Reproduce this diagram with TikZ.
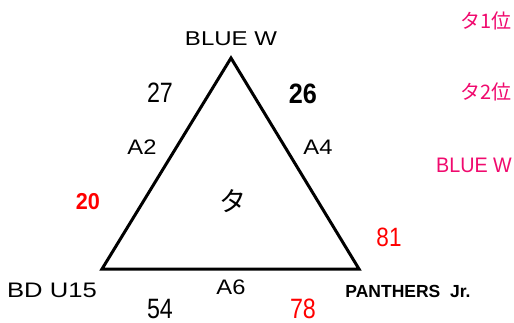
\documentclass[tikz,border=0pt]{standalone}
\usepackage{fontspec}
\setmainfont{Liberation Sans}
\newfontfamily\cjk{Noto Sans CJK JP}
\definecolor{pinkc}{RGB}{240,10,110}
\definecolor{redc}{RGB}{255,0,0}
\newcommand\hs[2]{\scalebox{#1}[1]{#2}}
\newcommand\fs[1]{\fontsize{#1}{#1}\selectfont}
\begin{document}
\begin{tikzpicture}[x=1pt,y=-1pt,
  every node/.style={inner sep=0pt},
  edge/.style={line width=3pt, line join=miter},
  team/.style={font=\fs{20}},
  score/.style={font=\fs{28}},
  bscore/.style={font=\fs{28}\bfseries},
  lab/.style={font=\fs{21}},
  rscore/.style={text=redc},
  legend/.style={anchor=east, text=pinkc}]
\useasboundingbox (0,0) rectangle (514,322);
\coordinate (top) at (231,58);
\coordinate (bl) at (102,269);
\coordinate (br) at (359,269);
\draw[edge] (top) -- (bl) -- (br) -- cycle;

\node[team] (tname) at (231,39) {\hs{1.2}{BLUE W}};
\node[score] (n27) at (160,93) {\hs{0.83}{27}};
\node[bscore] (n26) at (303,93.5) {\hs{0.9}{26}};
\node[lab] (a2) at (142,147.5) {\hs{1.13}{A2}};
\node[lab] (a4) at (318,147.5) {\hs{1.13}{A4}};
\node[rscore, font=\fs{23}\bfseries] (n20) at (88,202) {\hs{0.94}{20}};
\node[font=\fs{27}\cjk] (ta) at (233,201) {タ};
\node[rscore, font=\fs{26.5}] (n81) at (389,237.5) {\hs{0.85}{81}};
\node[lab] (bd) at (52,290.5) {\hs{1.22}{BD U15}};
\node[lab] (a6) at (231,287) {\hs{1.13}{A6}};
\node[font=\fs{17.5}\bfseries] (pan) at (408,291.5) {PANTHERS\ \ Jr.};
\node[score] (n54) at (160,308.5) {\hs{0.83}{54}};
\node[score, rscore] (n78) at (303,308.5) {\hs{0.83}{78}};

\node[legend, font=\fs{20}\cjk] (l1) at (512,21) {タ1位};
\node[legend, font=\fs{20}\cjk] (l2) at (512,92) {タ2位};
\node[legend, font=\fs{21}] (l3) at (512,165) {\hs{0.94}{BLUE W}};
\end{tikzpicture}
\end{document}
